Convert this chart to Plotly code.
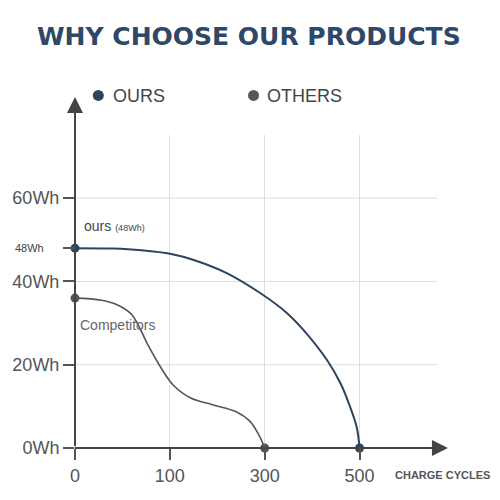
import plotly.graph_objects as go

# ---- data ----
x_tick_pos = [0, 1, 2, 3]
x_tick_labels = ["0", "100", "300", "500"]
y_tick_vals = [0, 20, 40, 60]
y_tick_labels = ["0Wh", "20Wh", "40Wh", "60Wh"]

ours_x = [0, 0.4, 0.7, 1.015, 1.26, 1.61, 1.96, 2.23, 2.41, 2.66, 2.80, 2.90, 2.97, 3.0]
ours_y = [48, 47.9, 47.5, 46.6, 45.1, 41.9, 37.1, 32.5, 28.3, 21.0, 15.5, 9.9, 5.0, 0]
ours_pts_x = [0, 3]
ours_pts_y = [48, 0]

others_x = [0, 0.28, 0.455, 0.6, 0.77, 0.9, 1.04, 1.22, 1.45, 1.7, 1.84, 1.93, 2.0]
others_y = [36, 35.5, 34.3, 32.0, 24.7, 19.5, 15.0, 12.0, 10.4, 8.7, 6.5, 3.5, 0]
others_pts_x = [0, 2]
others_pts_y = [36, 0]

NAVY = "#2c4460"
GRAY = "#555555"
TITLE = "#2e4867"
FONT = "Arial, Liberation Sans, sans-serif"

# plot-area geometry (pixels)
L, R, T, B = 73.3, 437.0, 135.0, 447.7
W, H = R - L, B - T
def px(p):
    return (p - L) / W
def py(p):
    return (B - p) / H

fig = go.Figure()
fig.add_trace(go.Scatter(x=others_x, y=others_y, mode="lines",
                         line=dict(color=GRAY, width=1.6, shape="spline", smoothing=1.0),
                         cliponaxis=False, showlegend=False, hoverinfo="skip"))
fig.add_trace(go.Scatter(x=ours_x, y=ours_y, mode="lines",
                         line=dict(color=NAVY, width=2, shape="spline", smoothing=1.0),
                         cliponaxis=False, showlegend=False, hoverinfo="skip"))
fig.add_trace(go.Scatter(x=others_pts_x, y=others_pts_y, mode="markers",
                         marker=dict(color=GRAY, size=9), cliponaxis=False, showlegend=False))
fig.add_trace(go.Scatter(x=ours_pts_x, y=ours_pts_y, mode="markers",
                         marker=dict(color=NAVY, size=9), cliponaxis=False, showlegend=False))

shapes = []
# horizontal grid lines
for v in y_tick_vals[1:]:
    shapes.append(dict(type="line", xref="paper", yref="y", x0=0, x1=1, y0=v, y1=v,
                       line=dict(color="#dddddd", width=1), layer="below"))
# legend dots
for cx, col in [(96.7, NAVY), (252.7, GRAY)]:
    shapes.append(dict(type="circle", xref="paper", yref="paper",
                       xsizemode="pixel", ysizemode="pixel",
                       xanchor=px(cx), yanchor=py(95.5),
                       x0=-5.5, x1=5.5, y0=-5.5, y1=5.5,
                       fillcolor=col, line=dict(width=0)))

ann = []
# axes with arrows
ann.append(dict(xref="paper", yref="paper", x=px(448), y=0, ax=-(448 - L), ay=0,
                axref="pixel", ayref="pixel", text="", showarrow=True,
                arrowhead=2, arrowsize=1.6, arrowwidth=2, arrowcolor="#444444", standoff=0))
ann.append(dict(xref="paper", yref="paper", x=0, y=py(97), ax=0, ay=(B - 97),
                axref="pixel", ayref="pixel", text="", showarrow=True,
                arrowhead=2, arrowsize=1.6, arrowwidth=2, arrowcolor="#444444", standoff=0))
# legend text
ann.append(dict(xref="paper", yref="paper", x=px(109), y=py(96), xanchor="left", yanchor="middle",
                text="OURS", showarrow=False, font=dict(family=FONT, size=18, color="#444444")))
ann.append(dict(xref="paper", yref="paper", x=px(264), y=py(96), xanchor="left", yanchor="middle",
                text="OTHERS", showarrow=False, font=dict(family=FONT, size=18, color="#444444")))
# labels
ann.append(dict(xref="paper", yref="paper", x=px(80), y=py(226), xanchor="left", yanchor="middle",
                text="ours <span style='font-size:9px'>(48Wh)</span>", showarrow=False,
                font=dict(family=FONT, size=14, color="#444444")))
ann.append(dict(xref="paper", yref="paper", x=px(76), y=py(325), xanchor="left", yanchor="middle",
                text="Competitors", showarrow=False,
                font=dict(family=FONT, size=14, color="#666666")))
ann.append(dict(xref="paper", yref="y", x=px(44), y=48, xanchor="right", yanchor="middle",
                text="48Wh", showarrow=False, font=dict(family=FONT, size=11, color="#444444")))
ann.append(dict(xref="paper", yref="paper", x=px(443), y=py(475), xanchor="center", yanchor="middle",
                text="<b>CHARGE CYCLES</b>", showarrow=False,
                font=dict(family=FONT, size=11, color="#555555")))
# title
ann.append(dict(xref="paper", yref="paper", x=px(248), y=py(37), xanchor="center", yanchor="middle",
                text="<b>WHY CHOOSE OUR PRODUCTS</b>", showarrow=False,
                font=dict(family="DejaVu Sans, sans-serif", size=25, color=TITLE)))

fig.update_layout(
    width=500, height=500,
    margin=dict(l=L, r=500 - R, t=T, b=500 - B, pad=0),
    paper_bgcolor="white", plot_bgcolor="white",
    shapes=shapes, annotations=ann,
    xaxis=dict(range=[0, (R - L) / 95.3], tickvals=x_tick_pos, ticktext=x_tick_labels,
               showgrid=True, gridcolor="#dddddd", gridwidth=1, zeroline=False, showline=False,
               ticks="outside", ticklen=11, tickwidth=1.5, tickcolor="#555555",
               tickfont=dict(family=FONT, size=18, color="#555555"), fixedrange=True),
    yaxis=dict(range=[0, (B - T) / 4.16], tickvals=y_tick_vals + [48],
               ticktext=y_tick_labels + [""],
               showgrid=False, zeroline=False, showline=False,
               ticks="outside", ticklen=11, tickwidth=1.5, tickcolor="#555555",
               tickfont=dict(family=FONT, size=18, color="#555555"), fixedrange=True),
    showlegend=False,
)

fig.write_html("out.html")
